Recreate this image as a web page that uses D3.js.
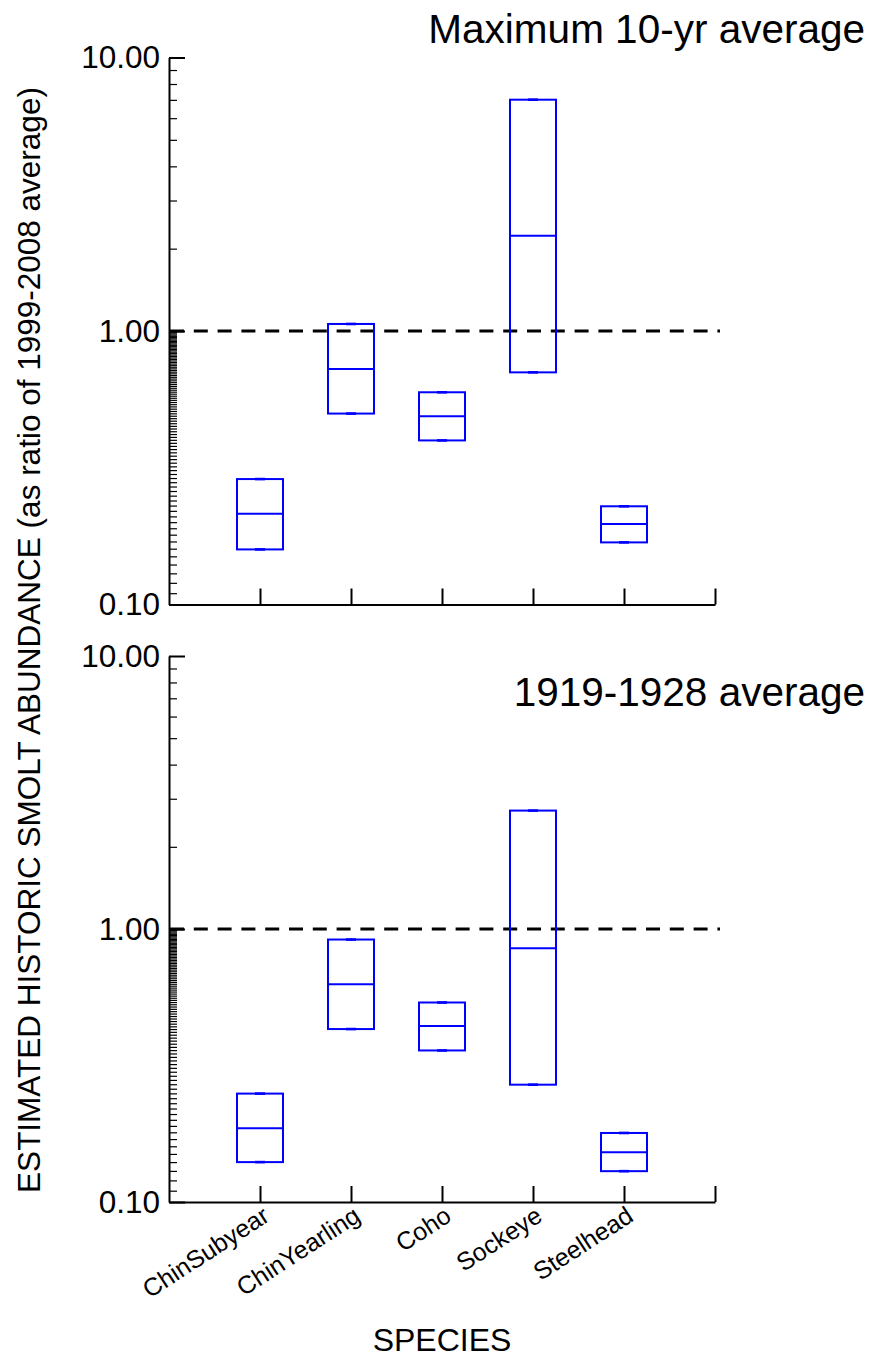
<!DOCTYPE html>
<html>
<head>
<meta charset="utf-8">
<script src="https://cdn.jsdelivr.net/npm/d3@7"></script>
<style>
  html, body { margin: 0; padding: 0; background: #fff; }
  svg { display: block; font-family: "Liberation Sans", Arial, sans-serif; }
</style>
</head>
<body>
<svg id="chart" width="870" height="1357"></svg>
<script>
// Species on the x axis
const categories = ["ChinSubyear", "ChinYearling", "Coho", "Sockeye", "Steelhead"];

// Maximum 10-yr average (ratio of 1999-2008 average)
const maxUpper  = [0.2875, 1.061, 0.597, 7.01, 0.2286];
const maxMedian = [0.2148, 0.726, 0.488, 2.23, 0.197];
const maxLower  = [0.159, 0.499, 0.398, 0.706, 0.1687];

// 1919-1928 average (ratio of 1999-2008 average)
const avgUpper  = [0.2495, 0.915, 0.538, 2.715, 0.179];
const avgMedian = [0.1862, 0.628, 0.441, 0.851, 0.152];
const avgLower  = [0.140, 0.430, 0.359, 0.269, 0.1297];

const panelTitles = ["Maximum 10-yr average", "1919-1928 average"];
const majorTicks = [0.1, 1, 10];
const majorLabels = ["0.10", "1.00", "10.00"];
const referenceLevel = 1;

const svg = d3.select("#chart");
const blue = "#0000ff";

const left = 169, right = 715;
const x = d3.scaleLinear().domain([0, categories.length + 1]).range([left, right]);
const labelX = i => x(i + 1);

// minor ticks: hundredths in the lower decade, units in the upper decade
const minorTicks = d3.range(11, 100).map(v => v / 100).concat(d3.range(2, 10));

const panels = [
  { top: 57.5, bottom: 604.5, upper: maxUpper, median: maxMedian, lower: maxLower,
    title: panelTitles[0], titleY: 43, showCats: false },
  { top: 656, bottom: 1202, upper: avgUpper, median: avgMedian, lower: avgLower,
    title: panelTitles[1], titleY: 706, showCats: true }
];

panels.forEach(p => {
  const y = d3.scaleLog().domain([0.1, 10]).range([p.bottom, p.top]);
  const g = svg.append("g");

  // minor ticks (inward)
  g.append("g")
    .attr("transform", `translate(${left},0)`)
    .call(d3.axisRight(y).tickValues(minorTicks).tickSize(8).tickFormat("").tickSizeOuter(0))
    .call(a => a.select(".domain").remove())
    .call(a => a.selectAll("line").attr("stroke", "#000").attr("stroke-width", 1.2));

  // major ticks (inward)
  g.append("g")
    .attr("transform", `translate(${left},0)`)
    .call(d3.axisRight(y).tickValues(majorTicks).tickSize(16).tickFormat("").tickSizeOuter(0))
    .call(a => a.select(".domain").attr("stroke", "#000").attr("stroke-width", 2))
    .call(a => a.selectAll("line").attr("stroke", "#000").attr("stroke-width", 2));

  // major tick labels
  g.append("g")
    .attr("transform", `translate(${left},0)`)
    .call(d3.axisLeft(y).tickValues(majorTicks).tickSize(0).tickPadding(9)
      .tickFormat((d, i) => majorLabels[i]))
    .call(a => a.select(".domain").remove())
    .call(a => a.selectAll("text")
      .attr("font-size", 31.5).attr("fill", "#000")
      .attr("font-family", "Liberation Sans, Arial, sans-serif"));

  // x axis with inward ticks
  g.append("g")
    .attr("transform", `translate(0,${p.bottom})`)
    .call(d3.axisTop(x).tickValues(d3.range(1, categories.length + 2)).tickSize(16)
      .tickFormat("").tickSizeOuter(0))
    .call(a => a.select(".domain").attr("stroke", "#000").attr("stroke-width", 2))
    .call(a => a.selectAll("line").attr("stroke", "#000").attr("stroke-width", 2));

  // reference line at 1.00
  g.append("line")
    .attr("x1", left + 1).attr("x2", right + 5)
    .attr("y1", y(referenceLevel)).attr("y2", y(referenceLevel))
    .attr("stroke", "#000").attr("stroke-width", 3)
    .attr("stroke-dasharray", "14,9.8");

  // boxes
  const boxW = 46, capW = 10;
  const boxes = g.append("g").selectAll("g").data(categories).join("g");
  boxes.append("rect")
    .attr("x", (d, i) => labelX(i) - boxW / 2)
    .attr("width", boxW)
    .attr("y", (d, i) => y(p.upper[i]))
    .attr("height", (d, i) => y(p.lower[i]) - y(p.upper[i]))
    .attr("fill", "none").attr("stroke", blue).attr("stroke-width", 2);
  boxes.append("line")
    .attr("x1", (d, i) => labelX(i) - boxW / 2).attr("x2", (d, i) => labelX(i) + boxW / 2)
    .attr("y1", (d, i) => y(p.median[i])).attr("y2", (d, i) => y(p.median[i]))
    .attr("stroke", blue).attr("stroke-width", 2);
  // whisker caps at the box ends
  [p.upper, p.lower].forEach(arr => {
    boxes.append("line")
      .attr("x1", (d, i) => labelX(i) - capW / 2).attr("x2", (d, i) => labelX(i) + capW / 2)
      .attr("y1", (d, i) => y(arr[i])).attr("y2", (d, i) => y(arr[i]))
      .attr("stroke", blue).attr("stroke-width", 2.6);
  });

  // panel title
  g.append("text")
    .attr("x", 865).attr("y", p.titleY)
    .attr("text-anchor", "end")
    .attr("font-size", 40.5).attr("fill", "#000")
    .text(p.title);

  if (p.showCats) {
    g.append("g").selectAll("text").data(categories).join("text")
      .attr("transform", (d, i) => `translate(${labelX(i) + 11},${p.bottom + 18}) rotate(-33)`)
      .attr("text-anchor", "end")
      .attr("font-size", 25).attr("fill", "#000")
      .text(d => d);
  }
});

// axis titles
svg.append("text")
  .attr("transform", "translate(40,640) rotate(-90)")
  .attr("text-anchor", "middle")
  .attr("font-size", 31.5).attr("fill", "#000")
  .text("ESTIMATED HISTORIC SMOLT ABUNDANCE (as ratio of 1999-2008 average)");

svg.append("text")
  .attr("x", 442).attr("y", 1351)
  .attr("text-anchor", "middle")
  .attr("font-size", 32).attr("fill", "#000")
  .text("SPECIES");
</script>
</body>
</html>
